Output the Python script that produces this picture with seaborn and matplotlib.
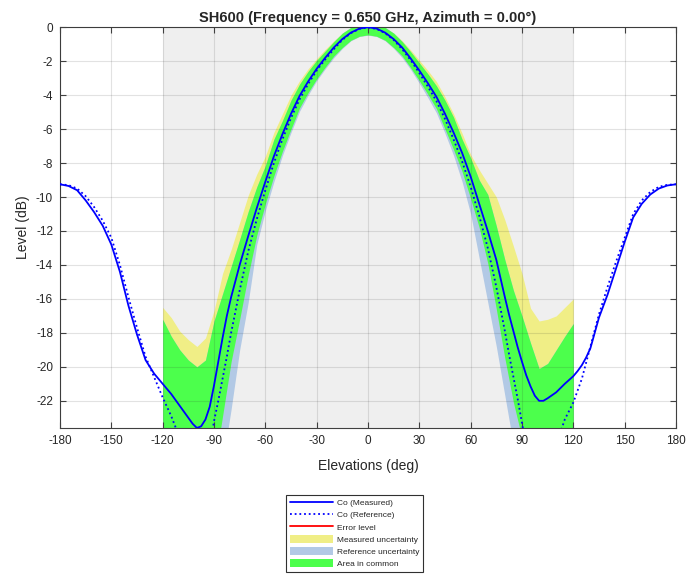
import numpy as np
import matplotlib
matplotlib.use('Agg')
import matplotlib.pyplot as plt
import seaborn as sns
from matplotlib.lines import Line2D
from matplotlib.patches import Patch

# elevation samples (deg), denser around the nulls
elev = [-180, -175, -170, -165, -160, -155, -150, -145, -140, -135, -130,
        -127.5, -125, -122.5, -120, -115, -110, -105,
        -102.5, -100, -97.5, -95, -92.5, -90, -87.5, -85, -82.5, -80,
        -75, -70, -65, -60, -55, -50, -45, -40, -35, -30, -25, -20, -15, -10, -5,
        0,
        5, 10, 15, 20, 25, 30, 35, 40, 45, 50, 55, 60, 65, 70, 75, 80,
        82.5, 85, 87.5, 90, 92.5, 95, 97.5, 100, 102.5,
        105, 110, 115, 120, 122.5, 125, 127.5,
        130, 135, 140, 145, 150, 155, 160, 165, 170, 175, 180]

co_meas = [-9.25, -9.35, -9.6, -10.2, -10.9, -11.7, -12.8, -14.4, -16.4, -18.1, -19.6,
           -20.0, -20.4, -20.7, -21.0, -21.6, -22.3, -23.0,
           -23.35, -23.6, -23.5, -23.1, -22.35, -21.1, -19.7, -18.3, -17.0, -15.9,
           -14.0, -12.3, -10.65, -9.1, -7.6, -6.3, -5.1, -4.05, -3.2, -2.45, -1.8, -1.2, -0.7, -0.32, -0.08,
           0.0,
           -0.08, -0.32, -0.7, -1.2, -1.85, -2.55, -3.3, -4.1, -5.1, -6.2, -7.4, -8.8, -10.4, -12.0, -13.7, -15.9,
           -16.95, -17.9, -18.85, -19.7, -20.5, -21.15, -21.7, -22.0, -22.0,
           -21.85, -21.5, -21.0, -20.55, -20.25, -19.9, -19.45,
           -18.9, -17.1, -15.75, -14.2, -12.65, -11.2, -10.4, -9.85, -9.5, -9.32, -9.25]

co_ref = [-9.25, -9.3, -9.5, -9.95, -10.6, -11.4, -12.4, -14.0, -15.9, -17.7, -19.4,
          -20.0, -20.6, -21.2, -21.8, -22.9, -24.2, -26.0,
          -27.0, -28.0, -27.5, -26.5, -24.9, -23.2, -22.0, -20.7, -19.4, -18.0,
          -15.5, -13.2, -11.3, -9.6, -8.0, -6.6, -5.35, -4.25, -3.35, -2.55, -1.9, -1.3, -0.75, -0.35, -0.1,
          -0.02,
          -0.1, -0.35, -0.75, -1.3, -1.95, -2.7, -3.5, -4.35, -5.4, -6.6, -7.9, -9.4, -11.1, -13.0, -15.3, -17.9,
          -19.3, -20.6, -21.9, -23.3, -24.8, -26.5, -28.0, -29.0, -28.3,
          -27.0, -24.6, -23.1, -22.1, -21.4, -20.7, -19.75,
          -18.8, -16.9, -15.3, -13.8, -12.4, -11.0, -10.2, -9.7, -9.4, -9.28, -9.25]

# uncertainty window (deg) and band half-widths in dB (upper / lower)
band_elev = list(range(-120, 121, 5))

meas_up = [4.5, 4.5, 4.4, 4.6, 4.8, 4.8, 4.4, 3.8, 2.8, 2.5, 2.4, 2.0, 1.5, 1.4, 1.2, 1.1,
           0.9, 0.75, 0.6, 0.5, 0.4, 0.35, 0.3, 0.25,
           0.25,
           0.25, 0.3, 0.35, 0.4, 0.5, 0.6, 0.75, 0.9, 1.0, 1.1, 1.15, 1.3, 2.0, 2.8, 3.7, 4.55,
           5.0, 5.2, 4.6, 4.7, 4.65, 4.5, 4.5, 4.55]
meas_dn = [5.0, 5.0, 5.0, 5.0, 5.0, 5.0, 5.0, 4.6, 3.8, 3.2, 2.3, 1.6, 1.3, 1.15, 1.0, 0.9,
           0.7, 0.65, 0.6, 0.55, 0.5, 0.5, 0.45, 0.45,
           0.45,
           0.45, 0.45, 0.5, 0.5, 0.55, 0.6, 0.65, 0.7, 0.9, 1.0, 1.1, 1.3, 1.4, 1.9, 2.9, 3.6,
           4.2, 4.5, 4.7, 4.8, 4.8, 4.8, 4.8, 4.8]
ref_up = [4.6, 4.7, 5.2, 6.4, 8.0, 6.9, 5.9, 5.0, 3.9, 3.0, 2.35, 1.9, 1.45, 1.4, 1.1, 1.05,
          0.9, 0.75, 0.6, 0.5, 0.45, 0.4, 0.35, 0.3,
          0.25,
          0.3, 0.35, 0.4, 0.45, 0.5, 0.6, 0.75, 0.9, 1.1, 1.3, 1.3, 1.7, 2.1, 3.15, 3.6, 4.2,
          5.1, 6.3, 7.9, 8.9, 7.2, 5.6, 4.9, 4.65]
ref_dn = [5.0, 5.0, 5.0, 5.0, 5.0, 5.0, 5.0, 5.0, 4.5, 3.5, 3.0, 1.5, 1.2, 1.1, 0.95, 0.85,
          0.7, 0.65, 0.6, 0.55, 0.5, 0.5, 0.45, 0.45,
          0.45,
          0.45, 0.45, 0.5, 0.5, 0.55, 0.6, 0.65, 0.7, 0.85, 0.95, 1.2, 1.6, 2.5, 3.2, 3.5, 3.8,
          4.0, 4.5, 4.5, 4.5, 4.5, 4.5, 4.5, 4.5]

x_ticks = list(range(-180, 181, 30))
y_ticks = list(range(-22, 1, 2))

sns.set_theme(style='ticks')
plt.rcParams['font.family'] = ['Liberation Sans', 'DejaVu Sans']
plt.rcParams['axes.unicode_minus'] = False

c_yellow = '#F0EE86'
c_blue = '#B2C9E5'
c_green = '#4CFF4C'
c_line = '#0000FF'
dots = (0, (1, 1.6))

fig = plt.figure(figsize=(6.89, 5.75), dpi=100)
ax = fig.add_axes([0.0871, 0.2557, 0.894, 0.697])

# window where the uncertainties are evaluated
ax.axvspan(band_elev[0], band_elev[-1], color='#EFEFEF', zorder=0, lw=0)

# pick the curve samples that sit on the band grid
meas_s = dict(zip(elev, co_meas))
ref_s = dict(zip(elev, co_ref))
m = np.array([meas_s[e] for e in band_elev])
r = np.array([ref_s[e] for e in band_elev])
m_hi, m_lo = m + np.array(meas_up), m - np.array(meas_dn)
r_hi, r_lo = r + np.array(ref_up), r - np.array(ref_dn)
c_hi = np.minimum(m_hi, r_hi)
c_lo = np.maximum(m_lo, r_lo)

ax.fill_between(band_elev, m_lo, m_hi, color=c_yellow, lw=0, zorder=1)
ax.fill_between(band_elev, r_lo, r_hi, color=c_blue, lw=0, zorder=1.1)
ax.fill_between(band_elev, c_lo, c_hi, where=c_hi > c_lo, interpolate=True,
                color=c_green, lw=0, zorder=1.2)

sns.lineplot(x=elev, y=co_meas, ax=ax, color=c_line, lw=1.3, zorder=3)
sns.lineplot(x=elev, y=co_ref, ax=ax, color=c_line, lw=1.3, linestyle=dots, zorder=3)

ax.set_xlim(-180, 180)
ax.set_ylim(-23.6, 0)
ax.set_xticks(x_ticks)
ax.set_yticks(y_ticks)
ax.set_axisbelow(False)
ax.grid(True, color='#262626', alpha=0.13, lw=0.8)
ax.tick_params(direction='in', top=True, right=True, length=4, width=0.8,
               color='#404040', labelsize=8.5, pad=5, labelcolor='#262626')
for s in ax.spines.values():
    s.set_color('#404040')
    s.set_linewidth(0.8)

ax.set_title('SH600 (Frequency = 0.650 GHz, Azimuth = 0.00°)',
             fontsize=10.5, fontweight='bold', pad=4)
ax.set_xlabel('Elevations (deg)', fontsize=10, labelpad=8.5, color='#262626')
ax.set_ylabel('Level (dB)', fontsize=10, labelpad=4, color='#262626')

handles = [
    Line2D([], [], color=c_line, lw=1.3),
    Line2D([], [], color=c_line, lw=1.3, linestyle=dots),
    Line2D([], [], color='#FF0000', lw=1.3),
    Patch(facecolor=c_yellow, edgecolor='none'),
    Patch(facecolor=c_blue, edgecolor='none'),
    Patch(facecolor=c_green, edgecolor='none'),
]
labels = ['Co (Measured)', 'Co (Reference)', 'Error level',
          'Measured uncertainty', 'Reference uncertainty', 'Area in common']
leg = fig.legend(handles, labels, loc='upper center', bbox_to_anchor=(0.5145, 0.139),
                 fontsize=6, frameon=True, fancybox=False, framealpha=1,
                 edgecolor='#303030', handlelength=5.2, handleheight=1.0,
                 handletextpad=0.4, labelspacing=0.42, borderpad=0.45,
                 borderaxespad=0)
leg.get_frame().set_linewidth(0.8)

fig.savefig('out.png', dpi=100)
